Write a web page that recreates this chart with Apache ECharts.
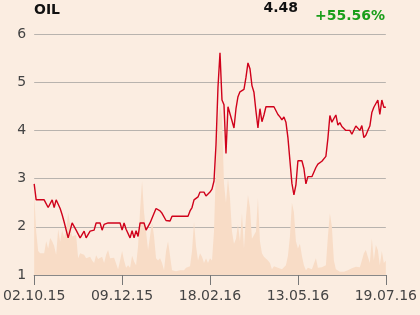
<!DOCTYPE html>
<html>
<head>
<meta charset="utf-8">
<script src="https://cdn.jsdelivr.net/npm/echarts@6/dist/echarts.min.js"></script>
<style>
  html, body { margin: 0; padding: 0; background: #fbede1; }
  #chart { width: 420px; height: 315px; }
</style>
</head>
<body>
<div id="chart"></div>
<script>
// tick labels under the x axis, one every 44 points
const xLabels = ['02.10.15', '09.12.15', '18.02.16', '13.05.16', '19.07.16']
const yTicks = [1, 2, 3, 4, 5, 6]

// closing price
const price = [
  2.89, 2.56, 2.56, 2.56, 2.56, 2.56, 2.56, 2.40, 2.40, 2.56,
  2.40, 2.56, 2.56, 2.38, 2.25, 2.10, 2.08, 1.77, 1.77, 2.08,
  2.08, 1.93, 1.90, 1.77, 1.77, 1.91, 1.77, 1.77, 1.91, 1.91,
  1.93, 2.08, 2.08, 2.08, 1.93, 2.05, 2.08, 2.08, 2.08, 2.08,
  2.08, 2.08, 2.08, 2.08, 1.93, 2.08, 1.95, 1.93, 1.77, 1.92,
  1.77, 1.92, 1.80, 2.08, 2.08, 2.08, 1.93, 1.93, 2.08, 2.12,
  2.28, 2.38, 2.38, 2.33, 2.28, 2.30, 2.13, 2.16, 2.12, 2.22,
  2.22, 2.22, 2.22, 2.22, 2.22, 2.22, 2.22, 2.22, 2.33, 2.40,
  2.56, 2.56, 2.62, 2.72, 2.72, 2.72, 2.64, 2.62, 2.72, 2.78,
  2.95, 3.70, 4.90, 5.61, 4.63, 4.53, 3.52, 4.49, 4.49, 4.20,
  4.05, 4.45, 4.70, 4.80, 4.80, 4.85, 5.10, 5.40, 5.28, 4.93,
  4.79, 4.40, 4.05, 4.45, 4.18, 4.32, 4.49, 4.49, 4.49, 4.49,
  4.49, 4.49, 4.33, 4.28, 4.22, 4.28, 4.17, 3.85, 3.84, 2.90,
  2.66, 2.87, 3.37, 3.37, 3.37, 3.21, 2.89, 3.04, 3.04, 3.04,
  3.08, 3.23, 3.30, 3.28, 3.36, 3.36, 3.46, 3.83, 4.31, 4.17,
  4.21, 4.32, 4.11, 4.16, 4.08, 4.05, 4.00, 4.00, 4.00, 3.92,
  3.90, 4.09, 4.05, 4.00, 4.10, 3.85, 3.90, 4.00, 4.09, 4.37,
  4.48, 4.48, 4.63, 4.33, 4.63, 4.48, 4.48
]

// traded volume (relative, drawn behind the price)
const volume = [
  1.70, 0.90, 0.50, 0.45, 0.42, 0.45, 0.70, 0.55, 0.77, 0.70,
  0.60, 0.42, 0.95, 0.69, 0.93, 0.78, 0.90, 1.30, 1.30, 0.80,
  0.83, 0.83, 0.35, 0.45, 0.48, 0.42, 0.35, 0.32, 0.38, 0.30,
  0.25, 0.41, 0.33, 0.35, 0.38, 0.25, 0.42, 0.52, 0.35, 0.32,
  0.36, 0.32, 0.12, 0.30, 0.50, 0.30, 0.15, 0.20, 0.15, 0.40,
  0.28, 0.20, 0.60, 1.35, 1.95, 1.30, 0.90, 0.52, 0.48, 1.10,
  0.80, 0.35, 0.30, 0.35, 0.25, 0.10, 0.50, 0.70, 0.40, 0.10,
  0.08, 0.08, 0.10, 0.10, 0.12, 0.10, 0.15, 0.15, 0.18, 0.50,
  1.10, 0.60, 0.30, 0.45, 0.38, 0.25, 0.35, 0.25, 0.35, 0.30,
  0.90, 2.30, 3.20, 3.50, 3.30, 1.90, 1.50, 2.00, 1.60, 0.90,
  0.65, 0.75, 1.05, 0.70, 1.28, 0.55, 1.20, 1.66, 1.40, 0.75,
  0.75, 0.90, 1.60, 0.70, 0.45, 0.38, 0.42, 0.30, 0.25, 0.12,
  0.18, 0.15, 0.15, 0.12, 0.12, 0.16, 0.20, 0.40, 0.80, 1.50,
  1.30, 0.70, 0.55, 0.65, 0.40, 0.20, 0.10, 0.15, 0.12, 0.12,
  0.15, 0.35, 0.15, 0.15, 0.16, 0.14, 0.20, 0.80, 1.28, 1.00,
  0.30, 0.12, 0.10, 0.07, 0.07, 0.07, 0.08, 0.10, 0.12, 0.14,
  0.16, 0.17, 0.14, 0.16, 0.30, 0.45, 0.52, 0.38, 0.25, 0.76,
  0.30, 0.62, 0.52, 0.20, 0.50, 0.25, 0.30
]

const step = 44
const categories = price.map((_, i) => i)
const headFont = { fontFamily: 'DejaVu Sans', fontSize: 14, fontWeight: 'bold', color: '#111' }

const chart = echarts.init(document.getElementById('chart'))
chart.setOption({
  backgroundColor: '#fbede1',
  animation: false,
  title: [
    { text: 'OIL', left: 34, top: 3, padding: 0, textStyle: headFont },
    { text: '4.48', right: 122, top: 1, padding: 0, textStyle: headFont },
    { text: '+55.56%', right: 35, top: 9, padding: 0, textStyle: { ...headFont, color: '#1a9e1a' } }
  ],
  grid: { left: 34, right: 34, top: 34, bottom: 40 },
  xAxis: {
    type: 'category',
    data: categories,
    boundaryGap: false,
    axisLine: { lineStyle: { color: '#888', width: 1 } },
    axisTick: { interval: step - 1, length: 10, lineStyle: { color: '#777' } },
    axisLabel: {
      interval: step - 1,
      margin: 14,
      fontFamily: 'DejaVu Sans',
      fontSize: 14,
      color: '#444',
      formatter: (v, idx) => xLabels[idx / step] || ''
    },
    splitLine: { show: false }
  },
  yAxis: [
    {
      type: 'value',
      min: yTicks[0],
      max: yTicks[yTicks.length - 1],
      interval: 1,
      axisLine: { show: false },
      axisTick: { show: false },
      axisLabel: { fontFamily: 'DejaVu Sans', fontSize: 14, color: '#444', margin: 8 },
      splitLine: { lineStyle: { color: '#b8b3ae', width: 1 } }
    },
    { type: 'value', min: 0, max: 5, show: false }
  ],
  series: [
    {
      type: 'line',
      yAxisIndex: 1,
      data: volume,
      symbol: 'none',
      lineStyle: { width: 0 },
      areaStyle: { color: '#f8dcc6', opacity: 1 },
      z: 1
    },
    {
      type: 'line',
      data: price,
      symbol: 'none',
      lineStyle: { color: '#d0021b', width: 1.4 },
      z: 3
    }
  ]
})
</script>
</body>
</html>
